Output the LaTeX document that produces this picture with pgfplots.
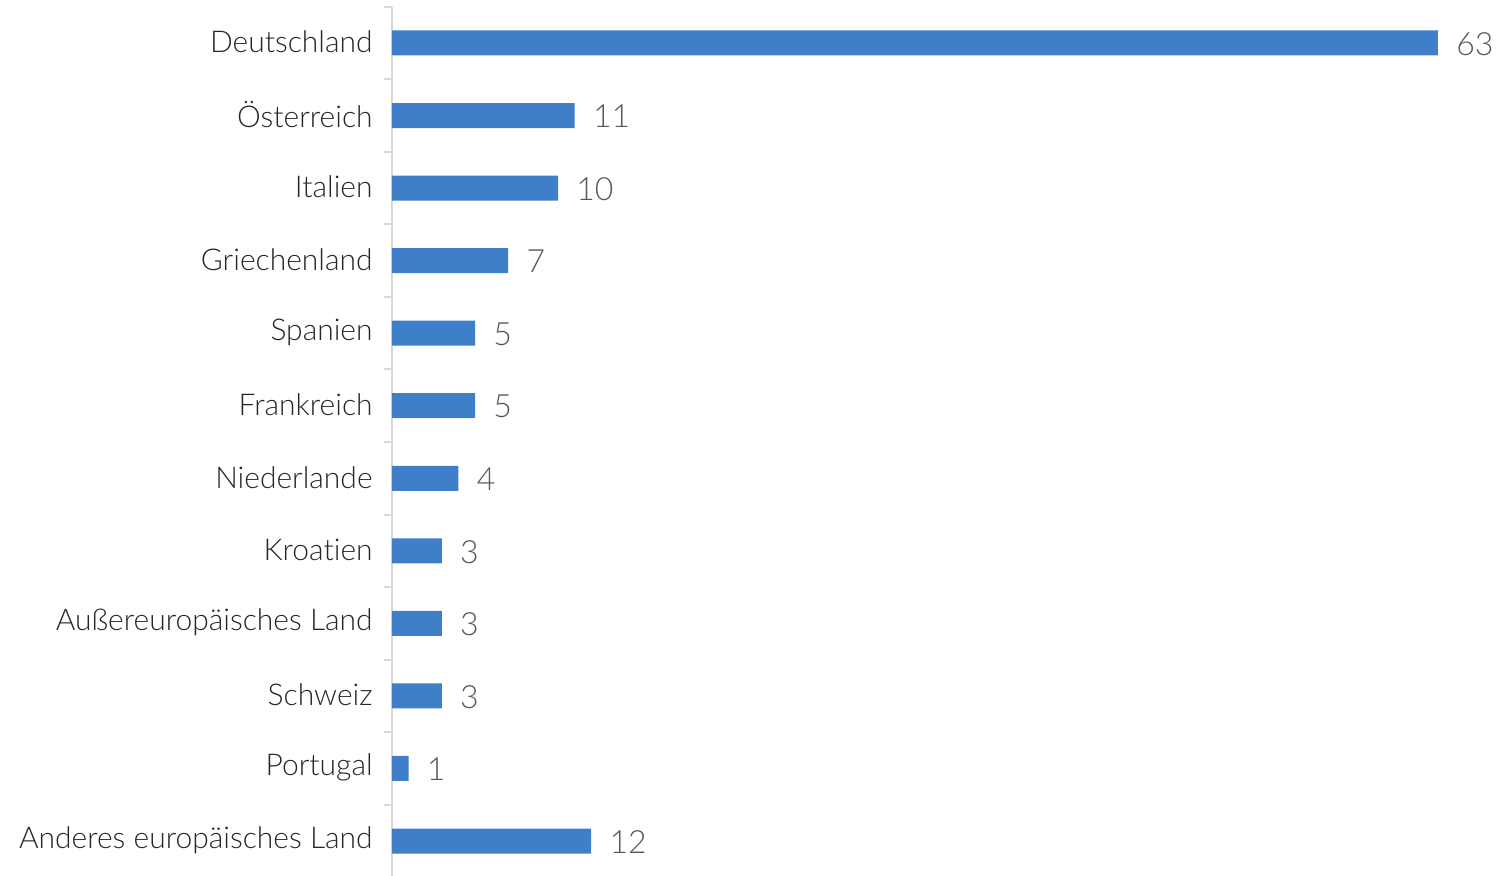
\documentclass[border=0pt]{standalone}
\usepackage{pgfplots}
\pgfplotsset{compat=1.18}
\usepackage{pgfplotstable}
\usepackage{fontspec}
\setmainfont{Lato Light}[Ligatures={NoCommon,NoRare,NoDiscretionary}]
\definecolor{barblue}{HTML}{3F7EC9}
\definecolor{axgray}{HTML}{D9D9D9}
\definecolor{valgray}{HTML}{595959}
\definecolor{labblack}{HTML}{262626}
\pgfplotstableread{
idx value
0 63
1 11
2 10
3 7
4 5
5 5
6 4
7 3
8 3
9 3
10 1
11 12
}\datatable
\begin{document}
\begin{tikzpicture}
\useasboundingbox (-196pt,1.15pt) rectangle (552pt,438.65pt);
\begin{axis}[
  at={(0,0)}, anchor=south west,
  scale only axis,
  width=523pt, height=435.3pt,
  xmin=0, xmax=63,
  ymin=-0.5, ymax=11.5,
  y dir=reverse,
  xbar, bar width=12.5pt,
  axis x line=none,
  axis y line=left,
  y axis line style={draw=axgray, line width=1pt, -},
  ytick={0,...,11},
  yticklabels={Deutschland,Österreich,Italien,Griechenland,Spanien,Frankreich,Niederlande,Kroatien,Außereuropäisches Land,Schweiz,Portugal,Anderes europäisches Land},
  major tick length=0pt,
  yticklabel style={font=\fontsize{15}{18}\selectfont, text=labblack, anchor=east, inner sep=0pt, xshift=-9.5pt, yshift=0.5pt},
  extra y ticks={-0.5,0.5,...,11.5},
  extra y tick labels={},
  extra y tick style={major tick length=4pt, tick align=outside, major tick style={draw=axgray, line width=1pt}},
  /pgf/number format/assume math mode=true,
  nodes near coords,
  nodes near coords style={font=\fontsize{16}{19}\selectfont, text=valgray, anchor=west, inner sep=0pt, xshift=9pt, yshift=-0.5pt},
  point meta=explicit,
  clip=false,
]
\addplot[fill=barblue, draw=none] table[x=value, y=idx, meta=value] {\datatable};
\end{axis}
\end{tikzpicture}
\end{document}
